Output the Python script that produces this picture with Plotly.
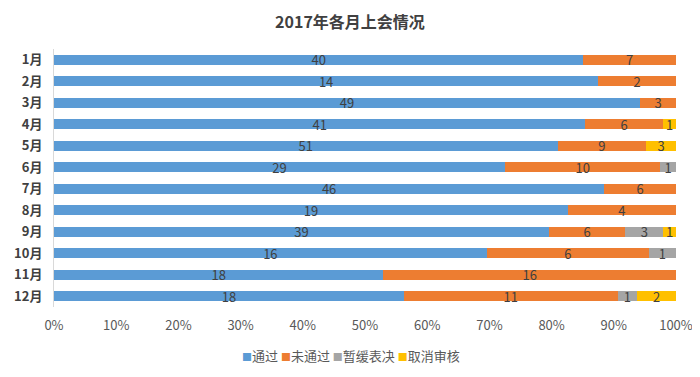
import plotly.graph_objects as go

months = ["1月", "2月", "3月", "4月", "5月", "6月", "7月", "8月", "9月", "10月", "11月", "12月"]
passed = [40, 14, 49, 41, 51, 29, 46, 19, 39, 16, 18, 18]
failed = [7, 2, 3, 6, 9, 10, 6, 4, 6, 6, 16, 11]
postponed = [0, 0, 0, 0, 0, 1, 0, 0, 3, 1, 0, 1]
cancelled = [0, 0, 0, 1, 3, 0, 0, 0, 1, 0, 0, 2]
tick_vals = [0, 10, 20, 30, 40, 50, 60, 70, 80, 90, 100]
tick_text = [f"{v}%" for v in tick_vals]

series = [
    ("通过", passed, "#5B9BD5"),
    ("未通过", failed, "#ED7D31"),
    ("暂缓表决", postponed, "#A5A5A5"),
    ("取消审核", cancelled, "#FFC000"),
]

FONT = "Noto Sans CJK SC, Microsoft YaHei, sans-serif"

# page body has an 8px offset; compensate so the plot lands where the reference has it
OFF = 8
W, H = 700, 377
L, R, T, B = 54 - OFF, 700 - 676 + OFF, 49 - OFF, 377 - 307 + OFF

fig = go.Figure()
for name, vals, color in series:
    fig.add_trace(go.Bar(
        name=name, y=months, x=vals, orientation="h",
        marker=dict(color=color, line=dict(width=0)),
        text=[str(v) if v else "" for v in vals],
        textposition="inside", insidetextanchor="middle",
        textangle=0, constraintext="none",
        textfont=dict(color="#404040", size=13, family=FONT),
        hoverinfo="skip", showlegend=False,
    ))

legend_html = " ".join(
    f"<span style='color:{c};font-size:10px'>■</span>{n}" for n, _, c in series
)
legend_y_px = 355 - OFF
legend_x_px = 351 - OFF
fig.add_annotation(text=legend_html,
                   x=(legend_x_px - L) / (W - L - R), xref="paper", xanchor="center",
                   y=1 - (legend_y_px - T) / (H - T - B), yref="paper", yanchor="middle",
                   showarrow=False,
                   font=dict(size=13, color="#595959", family=FONT))

fig.update_layout(
    width=W, height=H,
    barmode="stack", barnorm="percent", bargap=0.52,
    paper_bgcolor="white", plot_bgcolor="white",
    margin=dict(l=L, r=R, t=T, b=B),
    title=dict(text="<b>2017年各月上会情况</b>", x=(350 - OFF) / W, xanchor="center",
               y=1 - (22 - OFF) / H, yanchor="middle",
               font=dict(size=16, color="#404040", family=FONT)),
    font=dict(family=FONT, color="#595959"),
    uniformtext=dict(minsize=13, mode="show"),
    showlegend=False,
)

fig.update_xaxes(range=[0, 100], tickvals=tick_vals, ticktext=tick_text,
                 showgrid=False, zeroline=False, showline=False, automargin=False,
                 tickfont=dict(size=13, color="#595959", family=FONT), ticks="",
                 ticklabelstandoff=9)
fig.update_yaxes(autorange="reversed", showgrid=False, zeroline=False, automargin=False,
                 showline=True, linecolor="#D9D9D9", linewidth=1, ticks="",
                 tickfont=dict(size=13, color="#404040", family=FONT),
                 tickprefix="<b>", ticksuffix="</b>", ticklabelstandoff=8)

fig.write_html("out.html")
